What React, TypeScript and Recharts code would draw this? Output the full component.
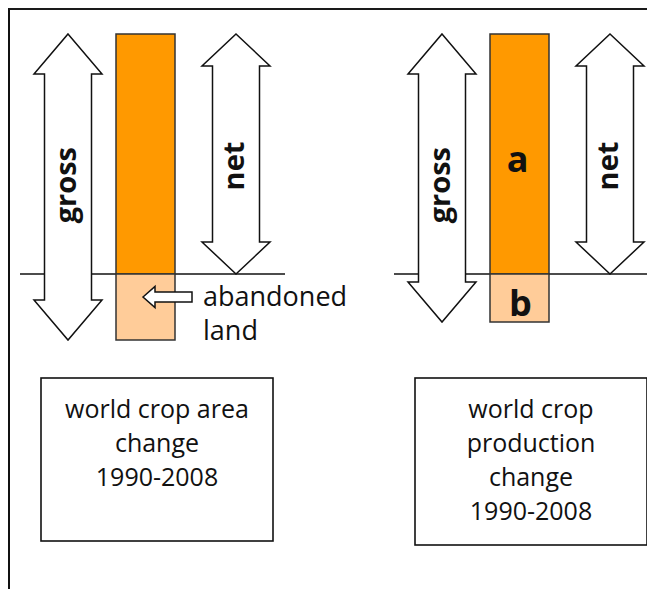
import { Bar, ComposedChart, XAxis, YAxis } from "recharts";

// schematic diagram: crop area vs crop production change, 1990-2008
const panels = ["area", "production"];
const boxText = [
  ["world crop area", "change", "1990-2008"],
  ["world crop", "production", "change", "1990-2008"],
];
// arbitrary units, the line is zero
const gains = [100, 100];
const losses = [-27.5, -20];
const gainTags = ["", "a"];
const lossTags = ["", "b"];
const lossNotes = [["abandoned", "land"], []];
const grossLabel = "gross";
const netLabel = "net";

const FONT = "'Open Sans', sans-serif";
const DARK = "#ff9900";
const LIGHT = "#ffcc99";
const INK = "#111";

const data = panels.map((panel, i) => ({
  panel,
  gain: gains[i],
  loss: losses[i],
}));

function box(p: any) {
  const top = Math.min(p.y, p.y + p.height);
  return { x: p.x, top, width: p.width, height: Math.abs(p.height) };
}

function arrowPoints(cx: number, top: number, bottom: number, hw: number, head: number) {
  const sw = hw - 10.5;
  return [
    [cx, top], [cx + hw, top + head], [cx + sw, top + head], [cx + sw, bottom - head],
    [cx + hw, bottom - head], [cx, bottom], [cx - hw, bottom - head], [cx - sw, bottom - head],
    [cx - sw, top + head], [cx - hw, top + head],
  ].map((pt) => pt.join(",")).join(" ");
}

function RotLabel({ cx, cy, text }: { cx: number; cy: number; text: string }) {
  return (
    <text
      transform={`translate(${cx + 8},${cy}) rotate(-90)`}
      textAnchor="middle"
      fontFamily={FONT}
      fontWeight={700}
      fontSize={29}
      fill={INK}
    >
      {text}
    </text>
  );
}

// gross arrow: from the gain down to the loss (same linear scale as the bar)
function GrossShape(props: any) {
  const { x, top, width, height } = box(props);
  const { gain, loss } = props.payload;
  const cx = x + width / 2;
  const zeroY = top + height;
  const bottom = zeroY + (height * -loss) / gain;
  return (
    <g>
      <line x1={cx - 48} x2={cx + 217} y1={zeroY} y2={zeroY} stroke={INK} strokeWidth={1.5} />
      <polygon points={arrowPoints(cx, top, bottom, width / 2, 40)} fill="#fff" stroke={INK} strokeWidth={1.5} />
      <RotLabel cx={cx} cy={zeroY - 0.37 * height} text={grossLabel} />
    </g>
  );
}

function NetShape(props: any) {
  const { x, top, width, height } = box(props);
  const cx = x + width / 2 + 13;
  const bottom = top + height;
  return (
    <g>
      <polygon points={arrowPoints(cx, top, bottom, width / 2, 32)} fill="#fff" stroke={INK} strokeWidth={1.5} />
      <RotLabel cx={cx} cy={bottom - 0.45 * height} text={netLabel} />
    </g>
  );
}

function Tag({ cx, cy, text }: { cx: number; cy: number; text: string }) {
  if (!text) return null;
  return (
    <text x={cx} y={cy + 17.5} textAnchor="middle" fontFamily={FONT} fontWeight={700} fontSize={36} fill={INK}>
      {text}
    </text>
  );
}

function GainShape(props: any) {
  const { x, top, width, height } = box(props);
  return (
    <g>
      <rect x={x} y={top} width={width} height={height} fill={DARK} stroke="#333" strokeWidth={1.5} />
      <Tag cx={x + width / 2 - 2} cy={top + height / 2} text={gainTags[props.index]} />
    </g>
  );
}

function LossShape(props: any) {
  const { x, top, width, height } = box(props);
  const note = lossNotes[props.index] ?? [];
  const ay = top + 23;
  return (
    <g>
      <rect x={x} y={top} width={width} height={height} fill={LIGHT} stroke="#333" strokeWidth={1.5} />
      <Tag cx={x + width / 2 + 1} cy={top + height / 2} text={lossTags[props.index]} />
      {note.length > 0 && (
        <g>
          <polygon
            points={[
              [x + 27, ay], [x + 39, ay - 10.5], [x + 39, ay - 5], [x + 76, ay - 5],
              [x + 76, ay + 5], [x + 39, ay + 5], [x + 39, ay + 10.5],
            ].map((pt) => pt.join(",")).join(" ")}
            fill="#fff"
            stroke={INK}
            strokeWidth={1.5}
          />
          {note.map((line, k) => (
            <text key={k} x={x + 87} y={top + 32 + k * 34} fontFamily={FONT} fontSize={27} fill={INK}>
              {line}
            </text>
          ))}
        </g>
      )}
    </g>
  );
}

function BoxTick(props: any) {
  const { x, y, payload } = props;
  const lines = boxText[payload.index] ?? [];
  const w = 232;
  const h = 151 + 4 * lines.length;
  const cx = x + 12;
  const top = y + 32;
  return (
    <g>
      <rect x={cx - w / 2} y={top} width={w} height={h} fill="#fff" stroke={INK} strokeWidth={1.6} />
      {lines.map((line: string, k: number) => (
        <text key={k} x={cx} y={top + 40 + k * 34} textAnchor="middle" fontFamily={FONT} fontSize={25} fill={INK}>
          {line}
        </text>
      ))}
    </g>
  );
}

export default function App() {
  return (
    <div style={{ position: "fixed", left: 0, top: 0, width: 647, height: 589, overflow: "hidden", background: "#fff" }}>
      <div
        style={{
          position: "absolute",
          left: 8,
          top: 8,
          width: 1000,
          height: 1000,
          borderTop: "2.5px solid #1a1a1a",
          borderLeft: "2.5px solid #111",
        }}
      />
      <div style={{ position: "absolute", left: -42, top: 0 }}>
        <ComposedChart
          width={748}
          height={589}
          data={data}
          margin={{ top: 34, right: 0, bottom: 0, left: 0 }}
          stackOffset="sign"
          barGap={14}
        >
          <XAxis
            dataKey="panel"
            height={243}
            axisLine={false}
            tickLine={false}
            tickSize={0}
            tickMargin={0}
            interval={0}
            tick={<BoxTick />}
          />
          <YAxis hide type="number" domain={[-30, 100]} tickCount={14} />
          <Bar dataKey="gain" stackId="gross" barSize={68} shape={<GrossShape />} isAnimationActive={false} />
          <Bar dataKey="gain" stackId="bar" barSize={59} shape={<GainShape />} isAnimationActive={false} />
          <Bar dataKey="loss" stackId="bar" barSize={59} shape={<LossShape />} isAnimationActive={false} />
          <Bar dataKey="gain" stackId="net" barSize={68} shape={<NetShape />} isAnimationActive={false} />
        </ComposedChart>
      </div>
    </div>
  );
}
